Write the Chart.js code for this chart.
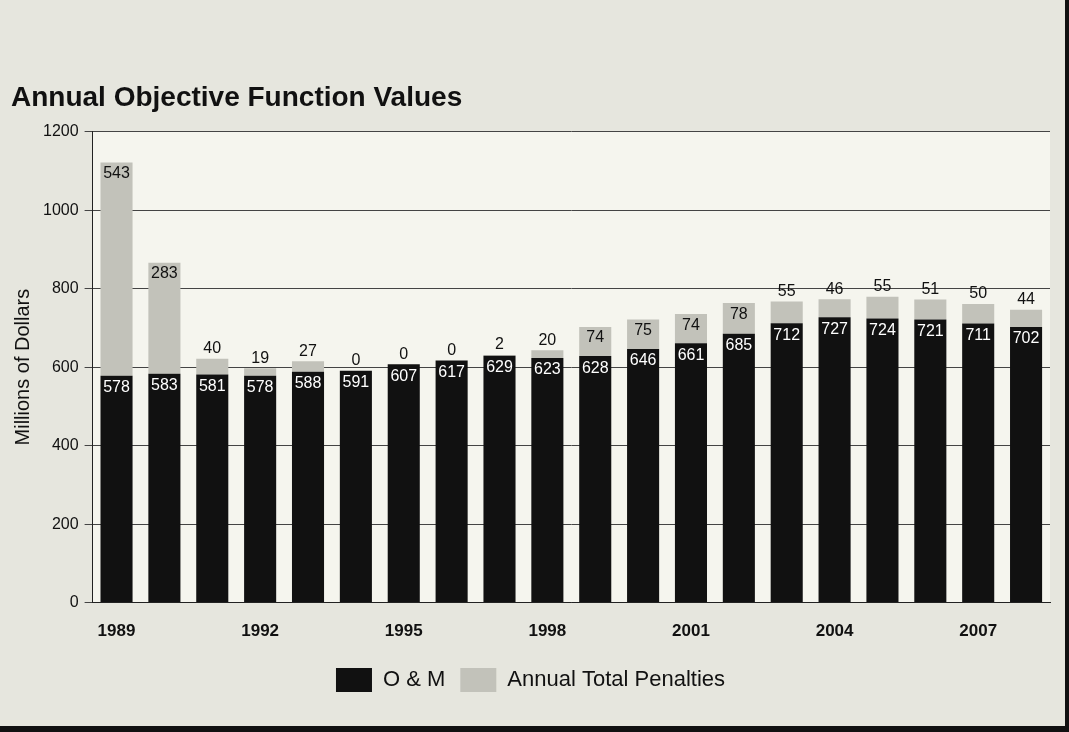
<!DOCTYPE html>
<html>
<head>
<meta charset="utf-8">
<script src="https://cdn.jsdelivr.net/npm/chart.js@4/dist/chart.umd.min.js"></script>
<style>
  html, body { margin: 0; padding: 0; background: #e6e6de; }
  #wrap { width: 1069px; height: 732px; position: relative; box-sizing: border-box; border-right: 4px solid #111; border-bottom: 6px solid #111; }
</style>
</head>
<body>
<div id="wrap"><canvas id="myChart" width="1065" height="726"></canvas></div>
<script>
// Roky a hodnoty (milióny dolárov)
const years = ['1989', '1990', '1991', '1992', '1993', '1994', '1995', '1996', '1997', '1998',
               '1999', '2000', '2001', '2002', '2003', '2004', '2005', '2006', '2007', '2008'];
const omValues = [578, 583, 581, 578, 588, 591, 607, 617, 629, 623,
                  628, 646, 661, 685, 712, 727, 724, 721, 711, 702];
const penaltyValues = [543, 283, 40, 19, 27, 0, 0, 0, 2, 20,
                       74, 75, 74, 78, 55, 46, 55, 51, 50, 44];
const yTicks = [0, 200, 400, 600, 800, 1000, 1200];

const FONT = '"Liberation Sans", Arial, sans-serif';

const plotBg = {
    id: 'plotBg',
    beforeDraw(chart) {
        const { ctx, chartArea: a } = chart;
        ctx.save();
        ctx.fillStyle = '#f5f5ee';
        ctx.fillRect(a.left, a.top, a.right - a.left, a.bottom - a.top);
        ctx.restore();
    }
};

// Popisky hodnôt na stĺpcoch
const barLabels = {
    id: 'barLabels',
    afterDatasetsDraw(chart) {
        const ctx = chart.ctx;
        const om = chart.getDatasetMeta(0).data;
        const pen = chart.getDatasetMeta(1).data;
        ctx.save();
        ctx.font = '16px ' + FONT;
        ctx.textAlign = 'center';
        om.forEach((bar, i) => {
            ctx.fillStyle = '#ffffff';
            ctx.textBaseline = 'top';
            ctx.fillText(String(omValues[i]), bar.x, bar.y + 4);
            const p = pen[i];
            ctx.fillStyle = '#111111';
            if (penaltyValues[i] >= 60) {
                ctx.textBaseline = 'top';
                ctx.fillText(String(penaltyValues[i]), p.x, p.y + 3);
            } else {
                ctx.textBaseline = 'bottom';
                ctx.fillText(String(penaltyValues[i]), p.x, p.y - 2);
            }
        });
        ctx.restore();
    }
};

const ctx = document.getElementById('myChart').getContext('2d');
new Chart(ctx, {
    type: 'bar',
    data: {
        labels: years,
        datasets: [
            { label: 'O & M', data: omValues, backgroundColor: '#111111', borderWidth: 0 },
            { label: 'Annual Total Penalties', data: penaltyValues, backgroundColor: '#c2c2ba', borderColor: '#333', borderWidth: 0 }
        ]
    },
    options: {
        responsive: false,
        animation: false,
        layout: { padding: { left: 11, right: 15, top: 81, bottom: 24 } },
        datasets: { bar: { barPercentage: 0.67, categoryPercentage: 1.0 } },
        plugins: {
            title: {
                display: true,
                text: 'Annual Objective Function Values',
                align: 'start',
                color: '#111',
                font: { family: FONT, size: 28, weight: 'bold' },
                padding: { top: 0, bottom: 17 }
            },
            legend: {
                position: 'bottom',
                labels: {
                    color: '#111',
                    font: { family: FONT, size: 22 },
                    boxWidth: 36, boxHeight: 24, padding: 15
                }
            },
            tooltip: { enabled: false }
        },
        scales: {
            x: {
                stacked: true,
                grid: { display: false },
                border: { color: '#222' },
                ticks: {
                    color: '#111',
                    autoSkip: false,
                    maxRotation: 0,
                    padding: 11,
                    font: { family: FONT, size: 17, weight: 'bold' },
                    callback: (v, i) => (i % 3 === 0 ? years[i] : '')
                }
            },
            y: {
                stacked: true,
                min: 0,
                max: 1200,
                afterBuildTicks: axis => { axis.ticks = yTicks.map(v => ({ value: v })); },
                grid: { color: '#444', lineWidth: 1, drawTicks: true, tickLength: 8 },
                border: { color: '#222' },
                title: {
                    display: true,
                    text: 'Millions of Dollars',
                    color: '#111',
                    font: { family: FONT, size: 20 },
                    padding: { top: 0, bottom: 2 }
                },
                ticks: {
                    color: '#111',
                    padding: 6,
                    font: { family: FONT, size: 16 },
                    callback: v => String(v)
                }
            }
        }
    },
    plugins: [plotBg, barLabels]
});
</script>
</body>
</html>
